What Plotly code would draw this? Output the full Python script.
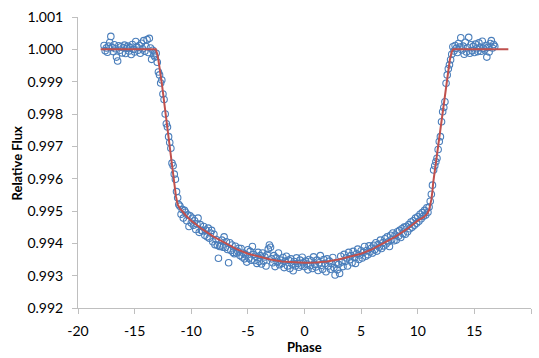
import plotly.graph_objects as go

# Observed data (phase, relative flux)
phase = [
    -17.7, -17.6, -17.5, -17.4, -17.3, -17.2, -17.1,
    -17.0, -16.9, -16.8, -16.7, -16.6, -16.5, -16.4, -16.3, -16.2, -16.1,
    -16.0, -15.9, -15.8, -15.7, -15.6, -15.5, -15.4, -15.3, -15.2, -15.1,
    -15.0, -14.9, -14.8, -14.7, -14.6, -14.5, -14.4, -14.3, -14.2, -14.1,
    -14.0, -13.9, -13.8, -13.7, -13.6, -13.5, -13.4, -13.3, -13.2, -13.1,
    -13.0, -12.9, -12.8, -12.7, -12.6, -12.5, -12.4, -12.3, -12.2, -12.1,
    -12.0, -11.9, -11.8, -11.7, -11.6, -11.5, -11.4, -11.3, -11.2, -11.1,
    -11.0, -10.9, -10.8, -10.7, -10.6, -10.5, -10.4, -10.3, -10.2, -10.1,
    -10.0, -9.9, -9.8, -9.7, -9.6, -9.5, -9.4, -9.3, -9.2, -9.1,
    -9.0, -8.9, -8.8, -8.7, -8.6, -8.5, -8.4, -8.3, -8.2, -8.1,
    -8.0, -7.9, -7.8, -7.7, -7.6, -7.5, -7.4, -7.3, -7.2, -7.1,
    -7.0, -6.9, -6.8, -6.7, -6.6, -6.5, -6.4, -6.3, -6.2, -6.1,
    -6.0, -5.9, -5.8, -5.7, -5.6, -5.5, -5.4, -5.3, -5.2, -5.1,
    -5.0, -4.9, -4.8, -4.7, -4.6, -4.5, -4.4, -4.3, -4.2, -4.1,
    -4.0, -3.9, -3.8, -3.7, -3.6, -3.5, -3.4, -3.3, -3.2, -3.1,
    -3.0, -2.9, -2.8, -2.7, -2.6, -2.5, -2.4, -2.3, -2.2, -2.1,
    -2.0, -1.9, -1.8, -1.7, -1.6, -1.5, -1.4, -1.3, -1.2, -1.1,
    -1.0, -0.9, -0.8, -0.7, -0.6, -0.5, -0.4, -0.3, -0.2, -0.1,
    0.0, 0.1, 0.2, 0.3, 0.4, 0.5, 0.6, 0.7, 0.8, 0.9,
    1.0, 1.1, 1.2, 1.3, 1.4, 1.5, 1.6, 1.7, 1.8, 1.9,
    2.0, 2.1, 2.2, 2.3, 2.4, 2.5, 2.6, 2.7, 2.8, 2.9,
    3.0, 3.1, 3.2, 3.3, 3.4, 3.5, 3.6, 3.7, 3.8, 3.9,
    4.0, 4.1, 4.2, 4.3, 4.4, 4.5, 4.6, 4.7, 4.8, 4.9,
    5.0, 5.1, 5.2, 5.3, 5.4, 5.5, 5.6, 5.7, 5.8, 5.9,
    6.0, 6.1, 6.2, 6.3, 6.4, 6.5, 6.6, 6.7, 6.8, 6.9,
    7.0, 7.1, 7.2, 7.3, 7.4, 7.5, 7.6, 7.7, 7.8, 7.9,
    8.0, 8.1, 8.2, 8.3, 8.4, 8.5, 8.6, 8.7, 8.8, 8.9,
    9.0, 9.1, 9.2, 9.3, 9.4, 9.5, 9.6, 9.7, 9.8, 9.9,
    10.0, 10.1, 10.2, 10.3, 10.4, 10.5, 10.6, 10.7, 10.8, 10.9,
    11.0, 11.1, 11.2, 11.3, 11.4, 11.5, 11.6, 11.7, 11.8, 11.9,
    12.0, 12.1, 12.2, 12.3, 12.4, 12.5, 12.6, 12.7, 12.8, 12.9,
    13.0, 13.1, 13.2, 13.3, 13.4, 13.5, 13.6, 13.7, 13.8, 13.9,
    14.0, 14.1, 14.2, 14.3, 14.4, 14.5, 14.6, 14.7, 14.8, 14.9,
    15.0, 15.1, 15.2, 15.3, 15.4, 15.5, 15.6, 15.7, 15.8, 15.9,
    16.0, 16.1, 16.2, 16.3, 16.4, 16.5, 16.6, 16.7, 16.8,
]

flux = [
    1.00012, 0.99996, 1.00004, 0.99991, 1.00010, 1.00021, 1.00040,
    1.00006, 0.99993, 1.00014, 1.00002, 0.99976, 0.99964, 1.00011, 0.99997, 1.00008, 0.99989,
    1.00005, 1.00013, 0.99987, 1.00003, 1.00010, 0.99995, 1.00006, 0.99984, 1.00015, 1.00000,
    0.99992, 1.00024, 1.00008, 0.99997, 1.00012, 0.99988, 1.00019, 1.00002, 1.00027, 0.99994,
    1.00009, 1.00030, 0.99990, 1.00034, 1.00004, 0.99969, 0.99997, 0.99982, 0.99976, 0.99988,
    0.99960, 0.99930, 0.99921, 0.99896, 0.99905, 0.99862, 0.99845, 0.99800, 0.99770, 0.99760,
    0.99730, 0.99712, 0.99694, 0.99648, 0.99640, 0.99614, 0.99598, 0.99560, 0.99541, 0.99520,
    0.99515, 0.99490, 0.99505, 0.99478, 0.99502, 0.99496, 0.99470, 0.99488, 0.99452, 0.99485,
    0.99463, 0.99478, 0.99456, 0.99470, 0.99443, 0.99460, 0.99478, 0.99434, 0.99458, 0.99440,
    0.99438, 0.99452, 0.99425, 0.99441, 0.99420, 0.99447, 0.99416, 0.99432, 0.99440, 0.99405,
    0.99428, 0.99396, 0.99412, 0.99394, 0.99354, 0.99390, 0.99392, 0.99410, 0.99388, 0.99420,
    0.99387, 0.99405, 0.99381, 0.99340, 0.99402, 0.99378, 0.99395, 0.99372, 0.99368, 0.99391,
    0.99370, 0.99376, 0.99385, 0.99362, 0.99384, 0.99358, 0.99370, 0.99352, 0.99365, 0.99342,
    0.99380, 0.99354, 0.99375, 0.99348, 0.99390, 0.99366, 0.99347, 0.99360, 0.99338, 0.99372,
    0.99344, 0.99362, 0.99336, 0.99370, 0.99345, 0.99358, 0.99330, 0.99366, 0.99382, 0.99395,
    0.99388, 0.99352, 0.99340, 0.99362, 0.99328, 0.99355, 0.99342, 0.99370, 0.99334, 0.99348,
    0.99338, 0.99356, 0.99325, 0.99345, 0.99360, 0.99330, 0.99348, 0.99322, 0.99352, 0.99336,
    0.99315, 0.99344, 0.99330, 0.99355, 0.99338, 0.99326, 0.99348, 0.99332, 0.99357, 0.99340,
    0.99328, 0.99345, 0.99336, 0.99318, 0.99350, 0.99331, 0.99346, 0.99322, 0.99358, 0.99335,
    0.99327, 0.99348, 0.99316, 0.99340, 0.99362, 0.99332, 0.99320, 0.99350, 0.99338, 0.99312,
    0.99352, 0.99330, 0.99345, 0.99320, 0.99338, 0.99356, 0.99325, 0.99302, 0.99340, 0.99318,
    0.99335, 0.99307, 0.99360, 0.99342, 0.99328, 0.99366, 0.99344, 0.99355, 0.99330, 0.99372,
    0.99349, 0.99362, 0.99340, 0.99375, 0.99356, 0.99338, 0.99368, 0.99382, 0.99350, 0.99364,
    0.99377, 0.99355, 0.99372, 0.99390, 0.99360, 0.99378, 0.99365, 0.99392, 0.99374, 0.99385,
    0.99370, 0.99394, 0.99380, 0.99402, 0.99376, 0.99396, 0.99388, 0.99410, 0.99384, 0.99402,
    0.99392, 0.99414, 0.99398, 0.99420, 0.99405, 0.99390, 0.99425, 0.99412, 0.99432, 0.99408,
    0.99426, 0.99410, 0.99436, 0.99422, 0.99440, 0.99418, 0.99445, 0.99430, 0.99450, 0.99428,
    0.99452, 0.99436, 0.99458, 0.99445, 0.99466, 0.99450, 0.99470, 0.99456, 0.99478, 0.99462,
    0.99482, 0.99468, 0.99490, 0.99476, 0.99495, 0.99484, 0.99502, 0.99488, 0.99510, 0.99496,
    0.99512, 0.99530, 0.99552, 0.99580, 0.99627, 0.99640, 0.99652, 0.99663, 0.99690, 0.99715,
    0.99730, 0.99776, 0.99807, 0.99820, 0.99838, 0.99895, 0.99921, 0.99940, 0.99952, 0.99968,
    0.99985, 1.00008, 0.99995, 1.00012, 1.00003, 0.99990, 1.00018, 1.00007, 1.00036, 0.99998,
    1.00010, 0.99985, 1.00022, 0.99992, 1.00005, 1.00037, 0.99988, 1.00014, 0.99996, 1.00009,
    0.99990, 1.00016, 1.00002, 0.99993, 1.00020, 1.00006, 0.99994, 1.00025, 1.00003, 0.99998,
    1.00012, 0.99976, 1.00006, 0.99992, 1.00018, 1.00027, 1.00004, 1.00015, 1.00009,
]

# Model light curve
model_phase = [-18, -13.13, -13.0, -12.9, -12.6, -12.3, -12.0, -11.7, -11.5, -11.35,
               -11.2, -11.0, -10.8, -10.5, -10, -9, -8, -7, -6, -5, -4, -3, -2, -1, 0,
               1, 2, 3, 4, 5, 6, 7, 8, 9, 10, 10.5, 10.8, 11.0, 11.1, 11.2, 11.3, 11.36,
               12.83, 13.0, 13.13, 18]
model_flux = [1.0, 1.0, 0.99985, 0.99967, 0.99895, 0.99812, 0.99725, 0.9964, 0.99585, 0.99545,
              0.9952, 0.99507, 0.995, 0.99487, 0.9947, 0.99443, 0.9942, 0.994, 0.99382, 0.99368,
              0.99358, 0.9935, 0.99344, 0.99341, 0.9934, 0.99341, 0.99344, 0.9935, 0.99358,
              0.99368, 0.99382, 0.994, 0.9942, 0.99443, 0.9947, 0.9948, 0.9949, 0.99503,
              0.99515, 0.99535, 0.99562, 0.99586, 0.99967, 0.99992, 1.0, 1.0]

x_ticks = [-20, -15, -10, -5, 0, 5, 10, 15, 20]
x_tick_labels = ["-20", "-15", "-10", "-5", "0", "5", "10", "15", "20"]
y_ticks = [0.992, 0.993, 0.994, 0.995, 0.996, 0.997, 0.998, 0.999, 1.000, 1.001]
y_tick_labels = ["0.992", "0.993", "0.994", "0.995", "0.996", "0.997", "0.998", "0.999", "1.000", "1.001"]

FONT = "Lato"
AXIS_COLOR = "#bfbfbf"

fig = go.Figure()
fig.add_trace(go.Scatter(
    x=phase, y=flux, mode="markers",
    marker=dict(symbol="circle-open", size=6.5, color="#4a7ebb", line=dict(width=1.1)),
    showlegend=False, hoverinfo="skip",
))
fig.add_trace(go.Scatter(
    x=model_phase, y=model_flux, mode="lines",
    line=dict(color="#c0504d", width=2),
    showlegend=False, hoverinfo="skip",
))

fig.update_layout(
    width=539, height=358,
    margin=dict(l=78, r=8, t=17, b=50, autoexpand=False),
    paper_bgcolor="white", plot_bgcolor="white",
    font=dict(family=FONT, size=14, color="#000000"),
    annotations=[
        dict(text="<b>Phase</b>", xref="paper", yref="paper", x=0.5, y=-0.134,
             xanchor="center", yanchor="middle", showarrow=False,
             font=dict(family=FONT, size=13)),
        dict(text="<b>Relative Flux</b>", xref="paper", yref="paper", x=-0.1347, y=0.5,
             xanchor="center", yanchor="middle", showarrow=False, textangle=-90,
             font=dict(family=FONT, size=13)),
    ],
)
fig.update_xaxes(
    range=[-20, 20], tickmode="array", tickvals=x_ticks, ticktext=x_tick_labels,
    showgrid=False, zeroline=False, showline=True, linecolor=AXIS_COLOR, linewidth=1,
    ticks="outside", ticklen=5, tickcolor=AXIS_COLOR, ticklabelstandoff=5,
    automargin=False,
)
fig.update_yaxes(
    range=[0.992, 1.001], tickmode="array", tickvals=y_ticks, ticktext=y_tick_labels,
    showgrid=False, zeroline=False, showline=True, linecolor=AXIS_COLOR, linewidth=1,
    ticks="outside", ticklen=5, tickcolor=AXIS_COLOR, ticklabelstandoff=6,
    automargin=False,
)

fig.write_html("out.html")
